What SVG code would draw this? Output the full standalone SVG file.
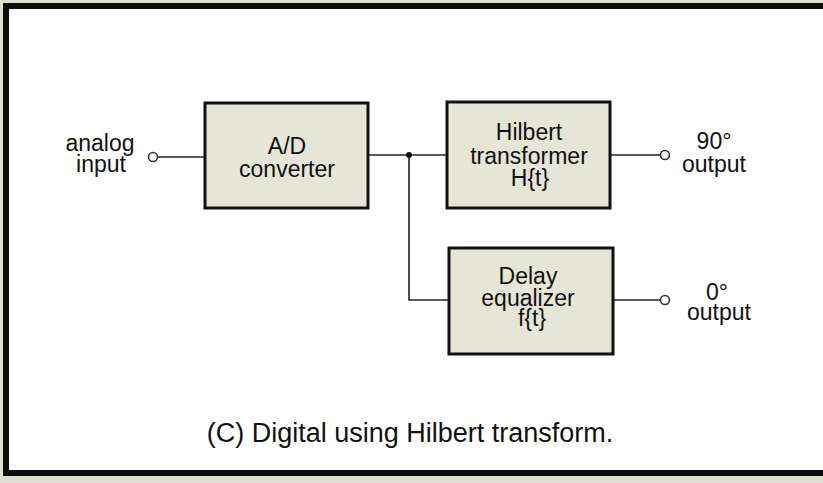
<svg xmlns="http://www.w3.org/2000/svg" width="823" height="483" viewBox="0 0 823 483">
<style>
.lbl{font-family:"Liberation Sans",Arial,sans-serif;font-size:23px;fill:#111;text-anchor:middle}
.cap{font-family:"Liberation Sans",Arial,sans-serif;font-size:27px;fill:#111;text-anchor:middle}
.box{fill:#e6e6d8;stroke:#111;stroke-width:3}
.wire{fill:none;stroke:#222;stroke-width:1.6}
.term{fill:#fff;stroke:#333;stroke-width:1.6}
</style>
<rect x="0" y="0" width="823" height="483" fill="#dedfd2"/>
<rect x="6" y="6" width="830" height="467" fill="#ffffff" stroke="#0d0d0d" stroke-width="6"/>
<g id="connectors">
<path class="wire" d="M157.5,157 H205"/>
<path class="wire" d="M368,155 H447"/>
<path class="wire" d="M409,155 V300 H449"/>
<path class="wire" d="M610,155 H660.5"/>
<path class="wire" d="M613,300 H660.5"/>
<circle cx="409" cy="155" r="3" fill="#111"/>
</g>
<g id="analog-input">
<circle class="term" cx="153" cy="157" r="4.5"/>
<text class="lbl" x="100" y="151">analog</text>
<text class="lbl" x="101" y="172">input</text>
</g>
<g id="ad-converter">
<rect class="box" x="205" y="103" width="163" height="105"/>
<text class="lbl" x="287" y="154">A/D</text>
<text class="lbl" x="287" y="177">converter</text>
</g>
<g id="hilbert">
<rect class="box" x="447" y="102" width="163" height="106"/>
<text class="lbl" x="529" y="140">Hilbert</text>
<text class="lbl" x="529" y="164">transformer</text>
<text class="lbl" x="530" y="186">H{t}</text>
</g>
<g id="out90">
<circle class="term" cx="665" cy="155" r="4.5"/>
<text class="lbl" x="714" y="149">90°</text>
<text class="lbl" x="714" y="172">output</text>
</g>
<g id="delay">
<rect class="box" x="449" y="248" width="164" height="106"/>
<text class="lbl" x="528" y="284">Delay</text>
<text class="lbl" x="528" y="306">equalizer</text>
<text class="lbl" x="532" y="326">f{t}</text>
</g>
<g id="out0">
<circle class="term" cx="665" cy="300" r="4.5"/>
<text class="lbl" x="717" y="300">0°</text>
<text class="lbl" x="719" y="320">output</text>
</g>
<text class="cap" x="410" y="442">(C) Digital using Hilbert transform.</text>
</svg>
